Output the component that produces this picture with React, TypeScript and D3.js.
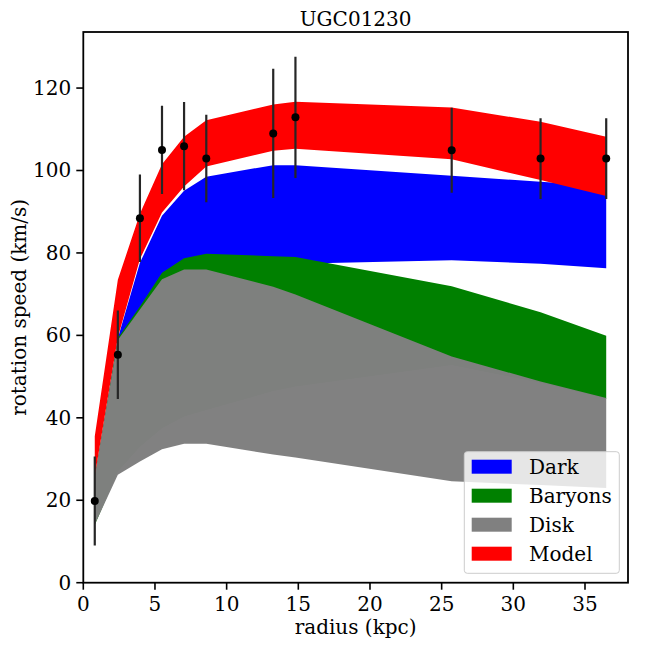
import { useMemo } from 'react';
import * as d3 from 'd3';

// radius of each sampled point (kpc)
const radius = [0.8, 2.41, 3.95, 5.49, 7.03, 8.58, 13.25, 14.8, 25.7, 31.9, 36.48];

// observed rotation speed and its error (km/s)
const vObs = [19.8, 55.3, 88.4, 105.0, 105.9, 102.9, 109.0, 112.9, 104.9, 102.9, 102.9];
const vErr = [10.8, 10.75, 10.6, 10.7, 10.7, 10.6, 15.7, 14.7, 10.3, 9.8, 9.8];

// band limits for every component
const darkLo = [22, 57, 65.5, 73, 75.5, 76.5, 77.2, 77.4, 78.2, 77.4, 76.3];
const darkHi = [25, 59.3, 77.6, 89, 95.1, 98.5, 101.3, 101.3, 98.7, 97.3, 96.2];
const baryLo = [14, 27, 33, 37.5, 40.3, 41.9, 46.5, 47.6, 52.8, 48.5, 44.6];
const baryHi = [25.5, 59.3, 67, 75.2, 78.7, 79.8, 79.2, 79.0, 71.9, 65.6, 59.9];
const diskLo = [14.1, 26.2, 29.4, 32.4, 33.7, 33.7, 31.1, 30.4, 24.6, 23.7, 23.0];
const diskHi = [25.8, 58.9, 66.3, 73.6, 76.0, 76.0, 71.8, 69.9, 54.9, 48.8, 44.8];
const modelLo = [25.8, 59.5, 78.5, 89.8, 96.1, 101, 104.8, 105.3, 102.7, 97.7, 93.8];
const modelHi = [35.5, 73.5, 89.5, 101.5, 108.2, 112.2, 116, 116.7, 115.3, 111.8, 108.2];

const xTicks = [0, 5, 10, 15, 20, 25, 30, 35];
const yTicks = [0, 20, 40, 60, 80, 100, 120];

const bandNames = ['Dark', 'Baryons', 'Disk', 'Model'];
const bandColors = ['#0000ff', '#008000', '#808080', '#ff0000'];

const W = 648;
const H = 648;
const LEFT = 83.3;
const RIGHT = 628;
const TOP = 32;
const BOTTOM = 582.7;
const FONT = '"DejaVu Serif", serif';
const FS = 20;

export default function App() {
  const x = d3.scaleLinear().domain([0, 38.0]).range([LEFT, RIGHT]);
  const y = d3.scaleLinear().domain([0, 133.6]).range([BOTTOM, TOP]);

  const bands = useMemo(
    () => [
      { lo: darkLo, hi: darkHi },
      { lo: baryLo, hi: baryHi },
      { lo: diskLo, hi: diskHi },
      { lo: modelLo, hi: modelHi },
    ],
    [],
  );

  const area = (lo: number[], hi: number[]) =>
    d3
      .area<number>()
      .x((d) => x(radius[d]))
      .y0((d) => y(lo[d]))
      .y1((d) => y(hi[d]))(d3.range(radius.length));

  return (
    <div style={{ position: 'absolute', left: 0, top: 0 }}>
      <svg width={W} height={H} fontFamily={FONT}>
        <rect width={W} height={H} fill="#fff" />
        <defs>
          <clipPath id="plot">
            <rect x={LEFT} y={TOP} width={RIGHT - LEFT} height={BOTTOM - TOP} />
          </clipPath>
        </defs>

        <g clipPath="url(#plot)">
          {bands.map((b, i) => (
            <path
              key={i}
              d={area(b.lo, b.hi)!}
              fill={bandColors[i]}
              fillOpacity={i === 2 ? 0.99 : 1}
            />
          ))}

          {radius.map((r, i) => (
            <g key={i}>
              <line
                x1={x(r)}
                x2={x(r)}
                y1={y(vObs[i] - vErr[i])}
                y2={y(vObs[i] + vErr[i])}
                stroke="#262626"
                strokeWidth={2.2}
              />
              <circle cx={x(r)} cy={y(vObs[i])} r={4} fill="#000" />
            </g>
          ))}
        </g>

        {/* x axis */}
        {xTicks.map((t) => (
          <g key={t}>
            <line x1={x(t)} x2={x(t)} y1={BOTTOM} y2={BOTTOM + 7} stroke="#000" strokeWidth={1.6} />
            <text x={x(t)} y={BOTTOM + 28} textAnchor="middle" fontSize={FS}>
              {t}
            </text>
          </g>
        ))}
        {/* y axis */}
        {yTicks.map((t) => (
          <g key={t}>
            <line x1={LEFT - 7} x2={LEFT} y1={y(t)} y2={y(t)} stroke="#000" strokeWidth={1.6} />
            <text
              x={LEFT - 12}
              y={y(t)}
              textAnchor="end"
              dominantBaseline="central"
              fontSize={FS}
            >
              {t}
            </text>
          </g>
        ))}

        <rect
          x={LEFT}
          y={TOP}
          width={RIGHT - LEFT}
          height={BOTTOM - TOP}
          fill="none"
          stroke="#000"
          strokeWidth={1.8}
        />

        <text x={(LEFT + RIGHT) / 2} y={26} textAnchor="middle" fontSize={FS}>
          UGC01230
        </text>
        <text x={(LEFT + RIGHT) / 2} y={634} textAnchor="middle" fontSize={FS}>
          radius (kpc)
        </text>
        <text
          transform={`translate(26, ${(TOP + BOTTOM) / 2}) rotate(-90)`}
          textAnchor="middle"
          fontSize={FS}
        >
          rotation speed (km/s)
        </text>

        {/* legend */}
        <g>
          <rect
            x={464.3}
            y={451.7}
            width={155}
            height={121.6}
            rx={3}
            fill="#fff"
            fillOpacity={0.8}
            stroke="#cccccc"
            strokeWidth={1}
          />
          {bandNames.map((name, i) => (
            <g key={name} transform={`translate(0, ${466.7 + i * 29})`}>
              <rect x={471.7} y={-7} width={40} height={14} fill={bandColors[i]} />
              <text x={529} y={0} dominantBaseline="central" fontSize={FS}>
                {name}
              </text>
            </g>
          ))}
        </g>
      </svg>
    </div>
  );
}
